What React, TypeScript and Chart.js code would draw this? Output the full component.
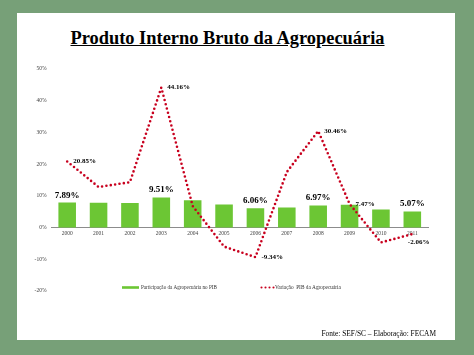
import React, { useEffect, useRef } from "react";
import { Chart, registerables } from "chart.js";

Chart.register(...registerables);

const years = ["2000", "2001", "2002", "2003", "2004", "2005", "2006", "2007", "2008", "2009", "2010", "2011"];
const shareValues = [7.89, 7.8, 7.75, 9.51, 8.6, 7.3, 6.06, 6.3, 6.97, 7.2, 5.7, 5.07];
const growthValues = [20.85, 12.8, 14.3, 44.16, 6.8, -6.0, -9.34, 17.5, 30.46, 7.47, -4.7, -2.06];
const shareLabelYears = ["2000", "2003", "2006", "2008", "2011"];
const growthLabelYears = ["2000", "2003", "2006", "2008", "2009", "2011"];
const growthBelowYears = ["2011"];
const yMin = -20;
const yMax = 50;
const yStep = 10;
const shareName = "Participação da Agropecuária no PIB";
const growthName = "Variação  PIB da Agropecuária";
const titleText = "Produto Interno Bruto da Agropecuária";
const sourceText = "Fonte: SEF/SC – Elaboração: FECAM";

const GREEN = "#6cc634";
const RED = "#c8001e";
const SERIF = '"Liberation Serif", "Times New Roman", serif';

const fmt = (v: number) => v.toFixed(2) + "%";

const labelPlugin = {
  id: "valueLabels",
  afterDatasetsDraw(chart: any) {
    const ctx = chart.ctx as CanvasRenderingContext2D;
    ctx.save();
    ctx.fillStyle = "#000";
    const barMeta = chart.getDatasetMeta(0);
    ctx.font = `bold 9px ${SERIF}`;
    ctx.textAlign = "center";
    ctx.textBaseline = "alphabetic";
    years.forEach((yr, i) => {
      if (shareLabelYears.includes(yr)) {
        const el = barMeta.data[i];
        ctx.fillText(fmt(shareValues[i]), el.x, el.y - 5);
      }
    });
    const lineMeta = chart.getDatasetMeta(1);
    ctx.font = `bold 7px ${SERIF}`;
    ctx.textAlign = "left";
    ctx.textBaseline = "middle";
    years.forEach((yr, i) => {
      if (growthLabelYears.includes(yr)) {
        const el = lineMeta.data[i];
        if (growthBelowYears.includes(yr)) {
          ctx.fillText(fmt(growthValues[i]), el.x - 4.5, el.y + 8.5);
        } else {
          ctx.fillText(fmt(growthValues[i]), el.x + 6, el.y);
        }
      }
    });
    ctx.restore();
  },
};

const legendPlugin = {
  id: "customLegend",
  afterDraw(chart: any) {
    const ctx = chart.ctx as CanvasRenderingContext2D;
    ctx.save();
    const y = 287.5;
    ctx.fillStyle = GREEN;
    ctx.fillRect(122, y - 1.3, 17, 2.6);
    ctx.fillStyle = "#333";
    ctx.font = `5.1px ${SERIF}`;
    ctx.textAlign = "left";
    ctx.textBaseline = "middle";
    ctx.fillText(shareName, 141, y);
    ctx.fillStyle = RED;
    for (let k = 0; k < 4; k++) {
      ctx.beginPath();
      ctx.arc(261.5 + k * 4, y, 1.05, 0, Math.PI * 2);
      ctx.fill();
    }
    ctx.fillStyle = "#333";
    ctx.font = `5.3px ${SERIF}`;
    ctx.fillText(growthName, 275, y);
    ctx.restore();
  },
};

export default function App() {
  const ref = useRef<HTMLCanvasElement>(null);

  useEffect(() => {
    if (!ref.current) return;
    const chart = new Chart(ref.current, {
      type: "bar",
      data: {
        labels: years,
        datasets: [
          {
            type: "bar",
            label: shareName,
            data: shareValues,
            backgroundColor: GREEN,
            borderWidth: 0,
            barPercentage: 0.56,
            categoryPercentage: 1,
            order: 2,
          } as any,
          {
            type: "line",
            label: growthName,
            data: growthValues,
            borderColor: RED,
            borderWidth: 2.6,
            borderDash: [0, 4.4],
            borderCapStyle: "round",
            pointRadius: 0,
            tension: 0,
            fill: false,
            order: 1,
          } as any,
        ],
      },
      options: {
        responsive: false,
        animation: false,
        events: [],
        layout: { padding: { left: 0, right: 46, top: 69, bottom: 64 } },
        plugins: {
          legend: { display: false },
          tooltip: { enabled: false },
        },
        scales: {
          x: {
            position: { y: 0 } as any,
            grid: { display: false, drawTicks: false },
            border: { display: true, color: "#8c8c8c", width: 1 },
            ticks: {
              padding: 3,
              color: "#444",
              font: { family: SERIF, size: 5.5 },
              maxRotation: 0,
              autoSkip: false,
            },
          },
          y: {
            min: yMin,
            max: yMax,
            grid: { display: false, drawTicks: false },
            border: { display: false },
            afterFit: (axis: any) => {
              axis.width = 51.5;
            },
            ticks: {
              stepSize: yStep,
              padding: 5,
              color: "#444",
              font: { family: SERIF, size: 5.5 },
              callback: (v: any) => v + "%",
            },
          },
        },
      },
      plugins: [labelPlugin, legendPlugin],
    });
    return () => chart.destroy();
  }, []);

  return (
    <div
      style={{
        position: "fixed",
        left: 0,
        top: 0,
        width: 474,
        height: 355,
        background: "#77a078",
        overflow: "hidden",
      }}
    >
      <div
        style={{
          position: "absolute",
          left: 17,
          top: 13,
          width: 438,
          height: 327,
          background: "#ffffff",
        }}
      />
      <div
        style={{
          position: "absolute",
          left: 0,
          top: 28.5,
          width: 455,
          textAlign: "center",
          fontFamily: SERIF,
          fontWeight: "bold",
          fontSize: 18.4,
          lineHeight: "18.4px",
          textDecoration: "underline",
          color: "#000",
          whiteSpace: "nowrap",
        }}
      >
        {titleText}
      </div>
      <canvas
        ref={ref}
        width={474}
        height={355}
        style={{ position: "absolute", left: 0, top: 0 }}
      />
      <div
        style={{
          position: "absolute",
          right: 38,
          top: 329.5,
          fontFamily: SERIF,
          fontSize: 7.4,
          lineHeight: "7.4px",
          color: "#000",
          whiteSpace: "nowrap",
        }}
      >
        {sourceText}
      </div>
    </div>
  );
}
